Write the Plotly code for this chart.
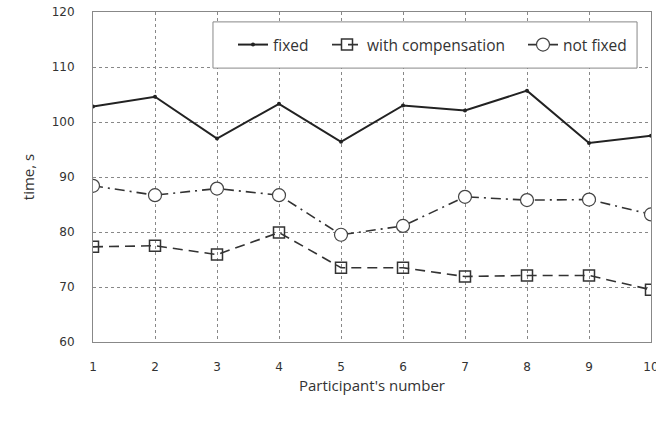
import plotly.graph_objects as go

participants = [1, 2, 3, 4, 5, 6, 7, 8, 9, 10]
fixed = [102.8, 104.6, 97.0, 103.3, 96.4, 103.0, 102.1, 105.7, 96.2, 97.5]
with_comp = [77.3, 77.5, 75.9, 79.9, 73.5, 73.5, 71.9, 72.1, 72.1, 69.5]
not_fixed = [88.4, 86.7, 87.9, 86.7, 79.5, 81.1, 86.4, 85.8, 85.9, 83.2]
y_ticks = [60, 70, 80, 90, 100, 110, 120]

fig = go.Figure()
fig.add_trace(go.Scatter(
    x=participants, y=fixed, name="fixed", mode="lines+markers",
    line=dict(color="#222222", width=2),
    marker=dict(symbol="circle", size=4, color="#222222"),
    legend="legend",
))
fig.add_trace(go.Scatter(
    x=participants, y=with_comp, name="with compensation", mode="lines+markers",
    line=dict(color="#333333", width=1.6, dash="10px,6px"),
    marker=dict(symbol="square-open", size=11, color="#333333", line=dict(width=1.5)),
    legend="legend2",
))
fig.add_trace(go.Scatter(
    x=participants, y=not_fixed, name="not fixed", mode="lines+markers",
    line=dict(color="#333333", width=1.6, dash="10px,5px,2px,5px"),
    marker=dict(symbol="circle", size=13, color="white", line=dict(width=1.2, color="#444444")),
    legend="legend3",
))

# legend frame
fig.add_shape(type="rect", xref="paper", yref="paper",
              x0=0.215, x1=0.975, y0=0.830, y1=0.970,
              line=dict(color="#888888", width=1), fillcolor="white", layer="above")

leg_common = dict(orientation="h", xanchor="left", yanchor="middle", y=0.90,
                  borderwidth=0, bgcolor="rgba(0,0,0,0)",
                  font=dict(family="Open Sans", size=15.5, color="#333333"))

fig.update_layout(
    width=656, height=424,
    margin=dict(l=93, r=5, t=12, b=82),
    paper_bgcolor="white", plot_bgcolor="white",
    font=dict(family="DejaVu Sans", size=12, color="#333333"),
    showlegend=True,
    legend=dict(x=(233 - 93) / 558, **leg_common),
    legend2=dict(x=(327 - 93) / 558, **leg_common),
    legend3=dict(x=(523 - 93) / 558, **leg_common),
    xaxis=dict(
        range=[1, 10], tickvals=participants, ticktext=[str(p) for p in participants],
        showgrid=True, gridcolor="#888888", griddash="3px,3px", gridwidth=1,
        showline=True, linecolor="#888888", linewidth=1, mirror=True,
        zeroline=False, ticks="", ticklabelstandoff=14, ticklabeloverflow="allow",
        automargin=False,
        title=dict(text="Participant's number", font=dict(family="Open Sans", size=15, color="#333333"), standoff=7),
    ),
    yaxis=dict(
        range=[60, 120], tickvals=y_ticks,
        showgrid=True, gridcolor="#888888", griddash="3px,3px", gridwidth=1,
        showline=True, linecolor="#888888", linewidth=1, mirror=True,
        zeroline=False, ticks="", ticklabelstandoff=15, automargin=False,
        title=dict(text="time, s", font=dict(family="Open Sans", size=15, color="#333333"), standoff=13),
    ),
)

fig.write_html("out.html")
